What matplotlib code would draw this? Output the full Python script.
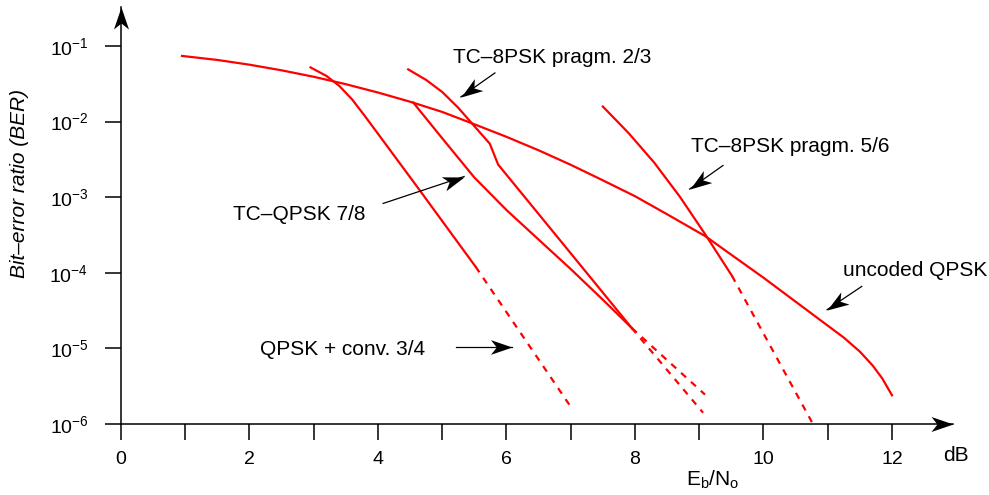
import numpy as np
import matplotlib
matplotlib.use('Agg')
import matplotlib.pyplot as plt
from matplotlib.path import Path
from matplotlib.markers import MarkerStyle
from matplotlib.transforms import Affine2D

plt.rcParams['font.family'] = ['Liberation Sans', 'DejaVu Sans']
plt.rcParams['mathtext.fontset'] = 'custom'
plt.rcParams['mathtext.rm'] = 'Liberation Sans'
plt.rcParams['mathtext.it'] = 'Liberation Sans:italic'
plt.rcParams['mathtext.bf'] = 'Liberation Sans:bold'

# ---------------- data (Eb/No in dB, BER) ----------------
uncoded_x = [0.95, 1.5, 2.0, 2.5, 3.0, 3.5, 4.0, 4.5, 5.0, 5.46, 6.0, 6.5, 7.0, 7.5, 8.0,
             8.5, 9.1, 9.5, 10.0, 10.5, 11.0, 11.25, 11.5, 11.7, 11.85, 12.0]
uncoded_ber = [7.38e-2, 6.53e-2, 5.65e-2, 4.76e-2, 3.91e-2, 3.12e-2, 2.42e-2, 1.83e-2,
               1.34e-2, 9.5e-3, 6.28e-3, 4.17e-3, 2.68e-3, 1.67e-3, 1.03e-3, 5.94e-4,
               3.03e-4, 1.73e-4, 8.61e-5, 4.15e-5, 2.0e-5, 1.39e-5, 9.07e-6, 5.93e-6,
               3.99e-6, 2.40e-6]

conv34_x = [2.95, 3.2, 3.4, 3.6, 3.8, 4.63, 5.52]
conv34_ber = [5.2e-2, 4.0e-2, 2.95e-2, 1.95e-2, 1.17e-2, 1.3e-3, 1.2e-4]
conv34_dash_x = [5.52, 6.99]
conv34_dash_ber = [1.2e-4, 1.74e-6]

tcqpsk78_x = [4.55, 5.0, 5.5, 6.0, 6.5, 7.0, 7.5, 7.95]
tcqpsk78_ber = [1.78e-2, 6.0e-3, 1.82e-3, 6.76e-4, 2.75e-4, 1.12e-4, 4.4e-5, 1.86e-5]
tcqpsk78_dash_x = [7.95, 9.09]
tcqpsk78_dash_ber = [1.86e-5, 2.45e-6]

tc8psk23_x = [4.47, 4.75, 5.0, 5.25, 5.46, 5.74, 5.87, 6.9, 7.95]
tc8psk23_ber = [4.9e-2, 3.55e-2, 2.46e-2, 1.52e-2, 9.5e-3, 5.1e-3, 2.7e-3, 2.3e-4, 1.86e-5]
tc8psk23_dash_x = [7.95, 9.06]
tc8psk23_dash_ber = [1.86e-5, 1.41e-6]

tc8psk56_x = [7.50, 7.9, 8.3, 8.7, 9.1, 9.51]
tc8psk56_ber = [1.58e-2, 7.05e-3, 2.86e-3, 1.01e-3, 3.16e-4, 9.1e-5]
tc8psk56_dash_x = [9.51, 10.77]
tc8psk56_dash_ber = [9.1e-5, 1.0e-6]

x_ticks = list(range(0, 13))
x_ticklabels = [str(v) if v % 2 == 0 else '' for v in x_ticks]
y_ticks = [1e-6, 1e-5, 1e-4, 1e-3, 1e-2, 1e-1]
y_ticklabels = [r'$10^{-6}$', r'$10^{-5}$', r'$10^{-4}$', r'$10^{-3}$', r'$10^{-2}$', r'$10^{-1}$']

# labels: (text, x, ber at baseline)
labels = [
    ('TC–8PSK pragm. 2/3', 5.16, 10 ** -1.229),
    ('TC–QPSK 7/8', 1.75, 10 ** -3.308),
    ('QPSK + conv. 3/4', 2.17, 10 ** -5.085),
    ('TC–8PSK pragm. 5/6', 8.87, 10 ** -2.396),
    ('uncoded QPSK', 11.24, 10 ** -4.048),
]
# pointer arrows: (tail x, tail ber, tip x, tip ber)
pointers = [
    (5.82, 10 ** -1.357, 5.29, 10 ** -1.674),
    (4.08, 10 ** -3.083, 5.34, 10 ** -2.727),
    (9.37, 10 ** -2.581, 8.85, 10 ** -2.893),
    (11.53, 10 ** -4.180, 10.99, 10 ** -4.488),
    (5.22, 10 ** -4.985, 6.08, 10 ** -4.985),
]

# ---------------- figure ----------------
W, H = 989, 495
fig = plt.figure(figsize=(W / 100, H / 100), dpi=100)
ax = fig.add_axes([121 / W, 71 / H, (953 - 121) / W, (424 - 7) / H])
ax.set_yscale('log')
ax.set_xlim(0, 12.95)
ax.set_ylim(1e-6, 10 ** (-1 + 39 / 75.7))

red = '#ff0000'
lw = 1.6
kw = dict(color=red, lw=lw, clip_on=False, solid_joinstyle='round')
ax.plot(uncoded_x, uncoded_ber, **kw)
ax.plot(conv34_x, conv34_ber, **kw)
ax.plot(tcqpsk78_x, tcqpsk78_ber, **kw)
ax.plot(tc8psk23_x, tc8psk23_ber, **kw)
ax.plot(tc8psk56_x, tc8psk56_ber, **kw)
dkw = dict(color=red, lw=lw, clip_on=False, dashes=(3.0, 3.0))
ax.plot(conv34_dash_x, conv34_dash_ber, **dkw)
ax.plot(tcqpsk78_dash_x, tcqpsk78_dash_ber, **dkw)
ax.plot(tc8psk23_dash_x, tc8psk23_dash_ber, **dkw)
ax.plot(tc8psk56_dash_x, tc8psk56_dash_ber, **dkw)

# axes styling
for s in ('top', 'right'):
    ax.spines[s].set_visible(False)
for s in ('left', 'bottom'):
    ax.spines[s].set_linewidth(1.1)
ax.set_xticks(x_ticks)
ax.set_xticklabels(x_ticklabels, fontsize=14)
ax.set_yticks(y_ticks)
ax.set_yticklabels(y_ticklabels, fontsize=14)
ax.yaxis.set_minor_locator(matplotlib.ticker.NullLocator())
ax.tick_params(axis='x', direction='out', length=11.5, width=1.1, pad=8)
ax.tick_params(axis='y', direction='out', length=11.5, width=1.1, pad=12)


def head(angle):
    verts = [(0, 0), (-22, 7.5), (-16, 0), (-22, -7.5), (0, 0)]
    codes = [Path.MOVETO, Path.LINETO, Path.LINETO, Path.LINETO, Path.CLOSEPOLY]
    return MarkerStyle(Path(verts, codes), transform=Affine2D().rotate_deg(angle))


# axis arrows
ax.plot([1], [0], transform=ax.transAxes, marker=head(0), ms=31.7, color='k', mew=0, clip_on=False)
ax.plot([0], [1], transform=ax.transAxes, marker=head(90), ms=31.7, color='k', mew=0, clip_on=False)

# labels
for txt, x, y in labels:
    ax.text(x, y, txt, fontsize=15, ha='left', va='baseline')

# pointers
for tx, ty, hx, hy in pointers:
    p0 = ax.transData.transform((tx, ty))
    p1 = ax.transData.transform((hx, hy))
    ang = np.degrees(np.arctan2(p1[1] - p0[1], p1[0] - p0[0]))
    ax.plot([tx, hx], [ty, hy], color='k', lw=0.9, clip_on=False)
    ax.plot([hx], [hy], marker=head(ang), ms=31, color='k', mew=0, clip_on=False)

ax.text(12.79, 10 ** -6.495, 'dB', fontsize=15, ha='left', va='baseline')
ax.text(8.80, 10 ** -6.82, r'$\mathregular{E_b/N_o}$', fontsize=15, ha='left', va='baseline')
ax.text(-0.1214, 0.578, 'Bit–error ratio (BER)', transform=ax.transAxes, rotation=90,
        fontsize=15, style='italic', ha='center', va='center')

fig.savefig('out.png', dpi=100)
